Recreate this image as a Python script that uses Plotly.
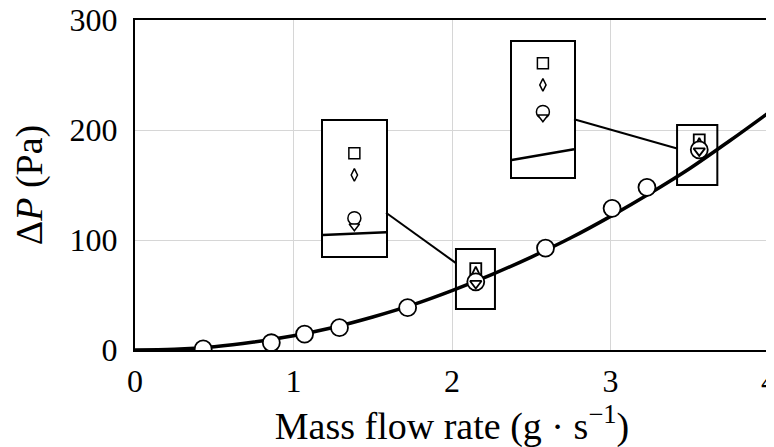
import plotly.graph_objects as go

# ---- data ----
curve_x = [0, 0.25, 0.5, 0.75, 1.0, 1.25, 1.5, 1.75, 2.0, 2.25, 2.5, 2.75, 3.0, 3.25, 3.5, 3.75, 4.0]
curve_y = [0, 0.6, 3.0, 7.3, 13, 20.5, 30, 41, 54, 68.5, 84.5, 102, 121.5, 142.5, 165, 190, 216]

circle_x = [0.43, 0.86, 1.07, 1.29, 1.72, 2.15, 2.59, 3.01, 3.23, 3.56]
circle_y = [1.0, 6.6, 14.5, 20.3, 38.5, 62, 92.7, 128.8, 147.9, 182]

other_x = [2.15, 3.56]
square_y = [74, 191]
diamond_y = [70, 187]
triangle_y = [60.5, 181]

inset1_curve_x = [2.09, 2.21]
inset1_curve_y = [58.9, 59.4]
inset2_curve_x = [3.50, 3.62]
inset2_curve_y = [173.1, 175.1]

x_ticks = [0, 1, 2, 3, 4]
y_ticks = [0, 100, 200, 300]

# ---- layout constants ----
XR = [0, 4]
YR = [0, 300]
FONT = "Liberation Serif"
FS = 32

# inset rectangles (in main data units) and their own axis ranges
insets = [
    dict(rect=([1.184, 1.584], [85.5, 208.2]), xr=[2.09, 2.21], yr=[55, 80],
         cx=inset1_curve_x, cy=inset1_curve_y, idx=0),
    dict(rect=([2.377, 2.770], [157.5, 280.3]), xr=[3.50, 3.62], yr=[170, 195],
         cx=inset2_curve_x, cy=inset2_curve_y, idx=1),
]
boxes = [([2.025, 2.271], [37.3, 91.8]), ([3.42, 3.674], [150, 204.5])]
connectors = [((1.584, 124.8), (2.025, 79.0)), ((2.770, 209.7), (3.42, 183.2))]


def dom(v, r):
    return (v - r[0]) / (r[1] - r[0])


fig = go.Figure()

# main curve
fig.add_trace(go.Scatter(x=curve_x, y=curve_y, mode="lines", line=dict(color="black", width=3.5, shape="spline"),
                         hoverinfo="skip", showlegend=False))


def marker_set(xa, ya, circ_x, circ_y, sizes, lw):
    specs = [
        (other_x, square_y, "square", sizes[0]),
        (other_x, diamond_y, "diamond-tall", sizes[1]),
        (circ_x, circ_y, "circle", sizes[2]),
        (other_x, triangle_y, "triangle-down", sizes[3]),
    ]
    for xs, ys, sym, sz in specs:
        fig.add_trace(go.Scatter(x=xs, y=ys, mode="markers", xaxis=xa, yaxis=ya,
                                 marker=dict(symbol=sym, size=sz, color="white",
                                             line=dict(color="black", width=lw)),
                                 showlegend=False))


marker_set("x", "y", circle_x, circle_y, [11, 9, 17, 10], 1.8)

# boxes and connectors on main axes
for bx, by in boxes:
    fig.add_shape(type="rect", xref="x", yref="y", x0=bx[0], x1=bx[1], y0=by[0], y1=by[1],
                  line=dict(color="black", width=2))
for (p0, p1) in connectors:
    fig.add_shape(type="line", xref="x", yref="y", x0=p0[0], y0=p0[1], x1=p1[0], y1=p1[1],
                  line=dict(color="black", width=2))

layout_axes = {}
for ins in insets:
    n = ins["idx"] + 2
    xa, ya = f"x{n}", f"y{n}"
    (rx, ry) = ins["rect"]
    xr, yr = ins["xr"], ins["yr"]
    # white background for the inset
    fig.add_trace(go.Scatter(x=[xr[0], xr[1], xr[1], xr[0], xr[0]], y=[yr[0], yr[0], yr[1], yr[1], yr[0]],
                             mode="lines", fill="toself", fillcolor="white", line=dict(width=0),
                             xaxis=xa, yaxis=ya, hoverinfo="skip", showlegend=False))
    fig.add_trace(go.Scatter(x=ins["cx"], y=ins["cy"], mode="lines", xaxis=xa, yaxis=ya,
                             line=dict(color="black", width=2.5), hoverinfo="skip", showlegend=False))
    marker_set(xa, ya, other_x, [circle_y[circle_x.index(v)] for v in other_x], [11, 9, 13, 9], 1.5)
    ax_common = dict(showline=True, mirror=True, linecolor="black", linewidth=2, showgrid=False,
                     zeroline=False, showticklabels=False, ticks="", automargin=False)
    layout_axes[f"xaxis{n}"] = dict(domain=[dom(rx[0], XR), dom(rx[1], XR)], range=xr, anchor=ya, **ax_common)
    layout_axes[f"yaxis{n}"] = dict(domain=[dom(ry[0], YR), dom(ry[1], YR)], range=yr, anchor=xa, **ax_common)

fig.update_layout(
    width=774, height=447,
    margin=dict(l=127, r=13, t=12, b=105),
    paper_bgcolor="white", plot_bgcolor="white",
    font=dict(family=FONT, size=FS, color="black"),
    xaxis=dict(range=XR, tickvals=x_ticks, showline=True, mirror=True, linecolor="black", linewidth=2,
               showgrid=True, gridcolor="#d6d6d6", gridwidth=1, zeroline=False, ticks="",
               ticklabelstandoff=2, automargin=False, ticklabeloverflow="allow",
               title=dict(text="Mass flow rate (g · s<sup>−1</sup>)", standoff=12)),
    yaxis=dict(range=YR, tickvals=y_ticks, showline=True, mirror=True, linecolor="black", linewidth=2,
               showgrid=True, gridcolor="#d6d6d6", gridwidth=1, zeroline=False, ticks="",
               ticklabelstandoff=9, automargin=False, ticklabeloverflow="allow",
               title=dict(text="Δ<i>P</i> (Pa)", standoff=21)),
    **layout_axes,
)

fig.write_html("out.html")
